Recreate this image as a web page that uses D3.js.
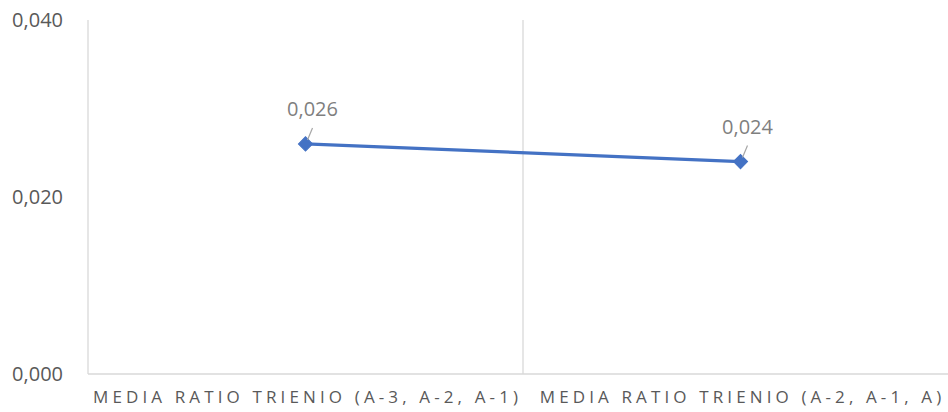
<!DOCTYPE html>
<html>
<head>
<meta charset="utf-8">
<script src="https://cdn.jsdelivr.net/npm/d3@7"></script>
<style>
  html, body { margin: 0; padding: 0; background: #fff; }
  svg { display: block; font-family: "Open Sans", "Liberation Sans", sans-serif; }
</style>
</head>
<body>
<svg id="chart" width="948" height="412"></svg>
<script>
const categories = ["MEDIA RATIO TRIENIO (A-3, A-2, A-1)", "MEDIA RATIO TRIENIO (A-2, A-1, A)"];
const values = [0.026, 0.024];
const valueLabels = ["0,026", "0,024"];
const yTicks = [0, 0.020, 0.040];
const yTickLabels = ["0,000", "0,020", "0,040"];

const svg = d3.select("#chart");
const plotLeft = 88, plotRight = 958, plotTop = 20, plotBottom = 374;

const x = d3.scaleBand().domain(categories).range([plotLeft, plotRight]).padding(0);
const y = d3.scaleLinear().domain([0, 0.04]).range([plotBottom, plotTop]);

// vertical category separators
const seps = categories.map(c => x(c));
svg.selectAll("line.sep").data(seps).enter().append("line")
  .attr("x1", d => d).attr("x2", d => d)
  .attr("y1", y(0.04)).attr("y2", plotBottom)
  .attr("stroke", "#d9d9d9").attr("stroke-width", 1.3);

// bottom axis line
svg.append("line").attr("x1", plotLeft).attr("x2", plotRight)
  .attr("y1", plotBottom).attr("y2", plotBottom)
  .attr("stroke", "#d9d9d9").attr("stroke-width", 1.3);

// y tick labels
svg.selectAll("text.ytick").data(yTicks).enter().append("text")
  .attr("x", 63).attr("y", d => y(d) + 7)
  .attr("text-anchor", "end")
  .attr("font-size", 20)
  .attr("fill", "#595959")
  .text((d, i) => yTickLabels[i]);

// category labels with letter spacing fitted to the reference width
const cats = svg.selectAll("text.cat").data(categories).enter().append("text")
  .attr("class", "cat")
  .attr("y", 403)
  .attr("text-anchor", "start")
  .attr("font-size", 17)
  .attr("fill", "#595959")
  .text(d => d);
const n0 = categories[0].length;
const w0 = cats.nodes()[0].getComputedTextLength();
const spacing = (425 - w0) / (n0 - 1);
cats.style("letter-spacing", spacing + "px");
cats.each(function(d) {
  const w = this.getComputedTextLength() - spacing;
  d3.select(this).attr("x", x(d) + x.bandwidth() / 2 - w / 2);
});

// line
const pts = categories.map((c, i) => [x(c) + x.bandwidth() / 2, y(values[i])]);
svg.append("path")
  .attr("d", d3.line()(pts))
  .attr("fill", "none")
  .attr("stroke", "#4472c4")
  .attr("stroke-width", 3.2);

// markers
svg.selectAll("path.marker").data(pts).enter().append("path")
  .attr("d", d3.symbol().type(d3.symbolSquare).size(100)())
  .attr("transform", d => `translate(${d[0]},${d[1]}) rotate(45)`)
  .attr("fill", "#4472c4")
  .attr("stroke", "#4472c4").attr("stroke-width", 1);

// leader lines
svg.selectAll("line.leader").data(pts).enter().append("line")
  .attr("x1", d => d[0] + 2).attr("y1", d => d[1] - 4)
  .attr("x2", d => d[0] + 7).attr("y2", d => d[1] - 16)
  .attr("stroke", "#a6a6a6").attr("stroke-width", 1.2);

// data labels
svg.selectAll("text.dl").data(pts).enter().append("text")
  .attr("x", d => d[0] + 7).attr("y", d => d[1] - 28)
  .attr("text-anchor", "middle")
  .attr("font-size", 20)
  .attr("fill", "#7f7f7f")
  .text((d, i) => valueLabels[i]);
</script>
</body>
</html>
